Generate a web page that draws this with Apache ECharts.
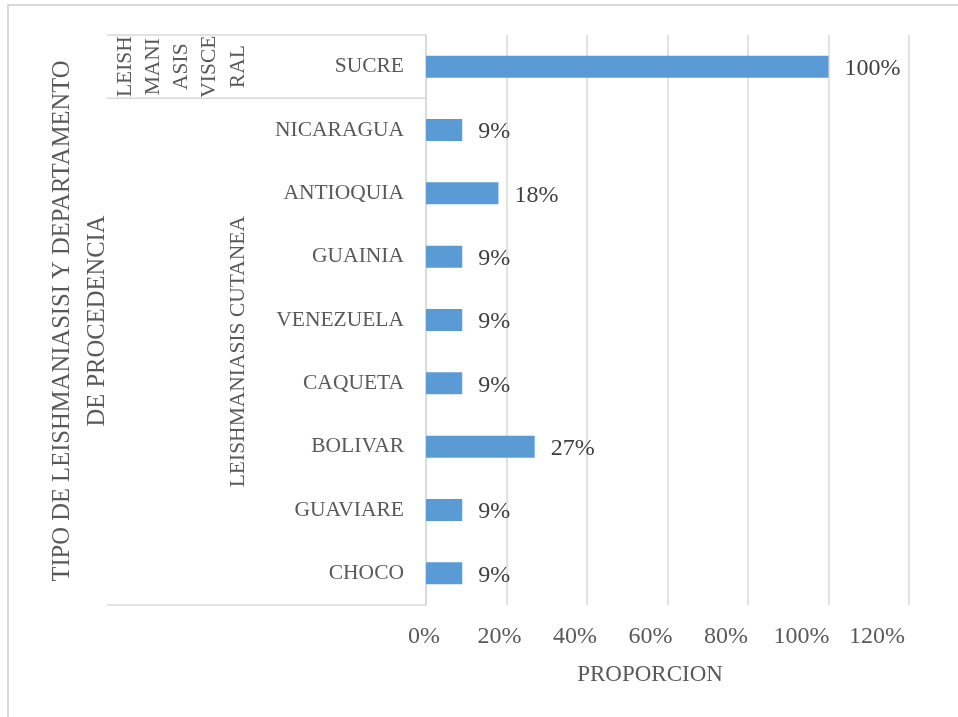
<!DOCTYPE html>
<html>
<head>
<meta charset="utf-8">
<script src="https://cdn.jsdelivr.net/npm/echarts@6/dist/echarts.min.js"></script>
<style>
html,body{margin:0;padding:0;background:#fff;}
#chart{width:958px;height:717px;}
</style>
</head>
<body>
<div id="chart"></div>
<script>
// ---- data ----
const categories = ['SUCRE','NICARAGUA','ANTIOQUIA','GUAINIA','VENEZUELA','CAQUETA','BOLIVAR','GUAVIARE','CHOCO'];
const values = [1.00, 0.09, 0.18, 0.09, 0.09, 0.09, 0.27, 0.09, 0.09];
const groupLabels = ['LEISH\nMANI\nASIS\nVISCE\nRAL', 'LEISHMANIASIS CUTANEA'];
const groupSizes = [1, 8];
const xMin = 0, xMax = 1.2, xInterval = 0.2;
const xAxisTitle = 'PROPORCION';
const yAxisTitle = 'TIPO DE LEISHMANIASISI Y DEPARTAMENTO\nDE PROCEDENCIA';

(function () {
const FONT = '"Liberation Serif", "DejaVu Serif", serif';
const GRID = '#d9d9d9';
const pct = v => Math.round(v * 100) + '%';

const chart = echarts.init(document.getElementById('chart'), null, {renderer: 'canvas'});
const option = {
  animation: false,
  backgroundColor: '#ffffff',
  grid: [
    {left: 426, right: 49, top: 35, bottom: 112, containLabel: false},
    // tick-label strip (Excel packs the labels slightly tighter than the gridlines)
    {left: 424, right: 81, top: 35, bottom: 112, containLabel: false}
  ],
  xAxis: [{
    type: 'value', gridIndex: 0, min: xMin, max: xMax, interval: xInterval,
    axisLine: {show: false}, axisTick: {show: false},
    splitLine: {show: true, lineStyle: {color: GRID, width: 1.5}},
    axisLabel: {show: false}
  }, {
    type: 'value', gridIndex: 1, min: xMin, max: xMax, interval: xInterval,
    axisLine: {show: false}, axisTick: {show: false}, splitLine: {show: false},
    axisLabel: {formatter: pct, color: '#595959', fontSize: 24, fontFamily: FONT, margin: 20}
  }],
  yAxis: [{
    type: 'category', gridIndex: 0, inverse: true, data: categories,
    axisLine: {show: true, lineStyle: {color: GRID, width: 1.5}},
    axisTick: {show: false},
    axisLabel: {color: '#595959', fontSize: 21.5, fontFamily: FONT, margin: 22, padding: [4, 0, 0, 0]}
  }, {
    type: 'category', gridIndex: 1, inverse: true, data: categories, show: false
  }],
  series: [{
    type: 'bar', xAxisIndex: 0, yAxisIndex: 0, data: values, barWidth: 22,
    itemStyle: {color: '#5b9bd5'},
    label: {show: true, position: 'right', distance: 16, offset: [0, 2], formatter: p => pct(p.value),
            color: '#404040', fontSize: 24, fontFamily: FONT}
  }]
};
chart.setOption(option);

// group column, separators and titles
const c0 = chart.convertToPixel({yAxisIndex: 0}, categories[0]);
const c1 = chart.convertToPixel({yAxisIndex: 0}, categories[1]);
const band = c1 - c0;
const axisX = chart.convertToPixel({xAxisIndex: 0}, 0);
const colLeft = 107;
const graphics = [];
let idx = 0;
const firstEdge = c0 - band / 2;
graphics.push({type: 'line', shape: {x1: colLeft, y1: firstEdge, x2: axisX, y2: firstEdge}, style: {stroke: GRID, lineWidth: 1.5}, silent: true});
const groupX = [181.5, 238];
groupSizes.forEach((n, g) => {
  const start = c0 + (idx - 0.5) * band;
  idx += n;
  const end = c0 + (idx - 0.5) * band;
  graphics.push({type: 'line', shape: {x1: colLeft, y1: end, x2: axisX, y2: end}, style: {stroke: GRID, lineWidth: 1.5}, silent: true});
  graphics.push({type: 'text', x: groupX[g], y: (start + end) / 2, rotation: Math.PI / 2,
    style: {text: groupLabels[g], align: 'center', verticalAlign: 'middle', fill: '#595959',
            fontSize: 21.5, fontFamily: FONT, lineHeight: 28.3}});
});
// y axis title
graphics.push({type: 'text', x: 80, y: 321, rotation: Math.PI / 2,
  style: {text: yAxisTitle, align: 'center', verticalAlign: 'middle', fill: '#595959',
          fontSize: 24.6, fontFamily: FONT, lineHeight: 35}});
// x axis title
graphics.push({type: 'text', x: 650, y: 675,
  style: {text: xAxisTitle, align: 'center', verticalAlign: 'middle', fill: '#595959',
          fontSize: 23, fontFamily: FONT}});
// outer frame
graphics.push({type: 'rect', shape: {x: 8, y: 5, width: 970, height: 730},
  style: {fill: 'none', stroke: GRID, lineWidth: 2}, silent: true});
chart.setOption({graphic: graphics});
})();
</script>
</body>
</html>
